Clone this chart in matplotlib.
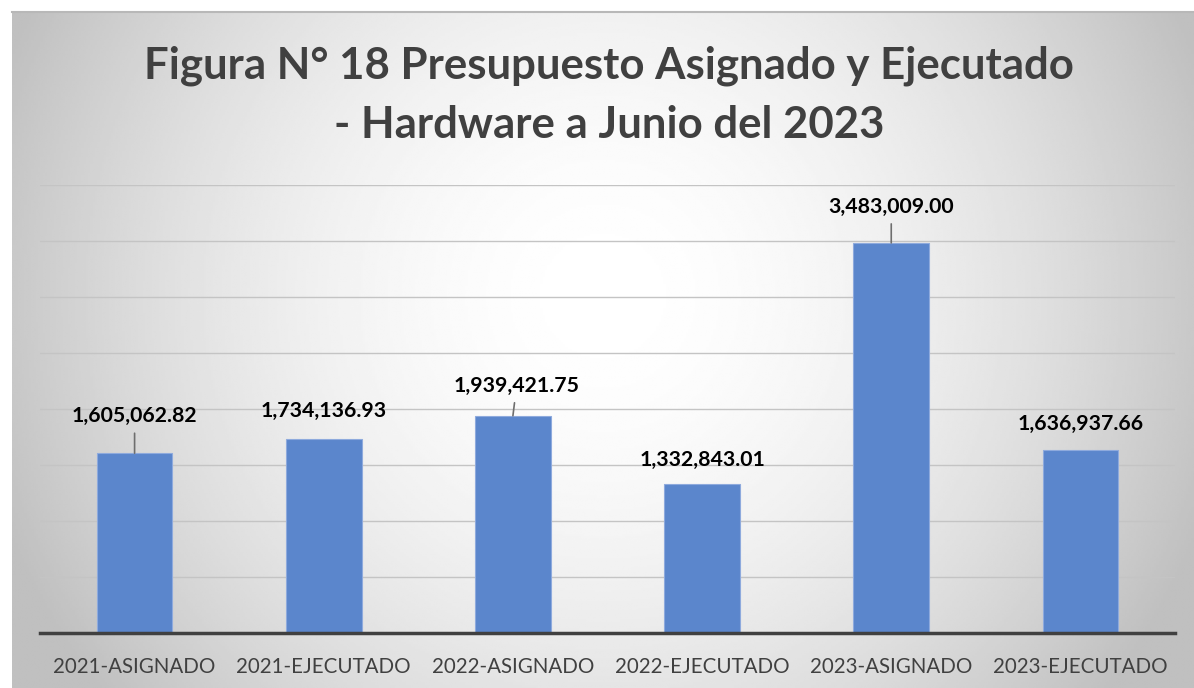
import numpy as np
import matplotlib.pyplot as plt

# Datos
categorias = ["2021-ASIGNADO", "2021-EJECUTADO", "2022-ASIGNADO",
              "2022-EJECUTADO", "2023-ASIGNADO", "2023-EJECUTADO"]
montos = [1605062.82, 1734136.93, 1939421.75, 1332843.01, 3483009.00, 1636937.66]
etiquetas = ["1,605,062.82", "1,734,136.93", "1,939,421.75",
             "1,332,843.01", "3,483,009.00", "1,636,937.66"]

# desplazamiento de etiquetas (pixeles) y si llevan linea guia
offs = [(0, 37), (0, 28), (4, 30), (0, 24), (0, 36), (0, 26)]
guia = [True, False, True, False, True, False]

fig = plt.figure(figsize=(11.94, 6.88), dpi=100)

# fondo con degradado radial
bg = fig.add_axes([12 / 1194, 0, 1 - 12 / 1194, 1 - 12 / 688])
yy, xx = np.mgrid[0:1:300j, 0:1.74:520j]
r = np.sqrt((xx - 0.87) ** 2 + (yy - 0.42) ** 2)
g = 1.0 - 0.25 * np.clip(r / 0.95, 0, 1) ** 1.8
bg.imshow(g, cmap="gray", vmin=0, vmax=1, aspect="auto", origin="upper",
          extent=[0, 1, 0, 1], interpolation="bilinear")
bg.axis("off")
fig.add_artist(plt.Line2D([12 / 1194, 1], [1 - 12 / 688, 1 - 12 / 688],
                          color="#b8b8b8", lw=1.5, transform=fig.transFigure))

ax = fig.add_axes([40 / 1194, 55 / 688, 1135 / 1194, 448 / 688])
ax.patch.set_alpha(0)
x = np.arange(len(categorias))
ax.bar(x, montos, width=0.4, color="#5b86cc", edgecolor="#8eaadd", linewidth=0.8, zorder=3)
ax.set_xlim(-0.5, len(categorias) - 0.5)
ax.set_ylim(0, 4000000)
ax.set_yticks(np.arange(500000, 4000001, 500000))
ax.yaxis.grid(True, color="#c4c4c4", lw=1)
ax.tick_params(axis="y", length=0, labelleft=False)
ax.set_xticks(x)
ax.set_xticklabels(categorias, fontsize=14.8, color="#404040", family="Lato")
ax.tick_params(axis="x", length=0, pad=17)
for s in ["top", "right", "left"]:
    ax.spines[s].set_visible(False)
ax.spines["bottom"].set_color("#404040")
ax.spines["bottom"].set_linewidth(2.5)
ax.spines["bottom"].set_zorder(4)

px = 72 / 100
for i, (v, t) in enumerate(zip(montos, etiquetas)):
    dx, dy = offs[i]
    ax.annotate(t, (i, v), xytext=(dx * px, dy * px), textcoords="offset points",
                ha="center", va="center", fontsize=15.3, fontweight="bold",
                family="Lato", color="black", zorder=5)
    if guia[i]:
        ax.annotate("", (i, v), xytext=(dx * 0.4 * px, (dy - 17) * px),
                    textcoords="offset points",
                    arrowprops=dict(arrowstyle="-", color="#6e6e6e", lw=1.2,
                                    shrinkA=0, shrinkB=0))

fig.text(0.51, 1 - 66 / 688, "Figura N° 18 Presupuesto Asignado y Ejecutado",
         ha="center", va="center", fontsize=31.5, fontweight="bold", family="Lato", color="#404040")
fig.text(0.51, 1 - 125 / 688, "- Hardware a Junio del 2023",
         ha="center", va="center", fontsize=31.5, fontweight="bold", family="Lato", color="#404040")

fig.savefig("out.png", dpi=100)
